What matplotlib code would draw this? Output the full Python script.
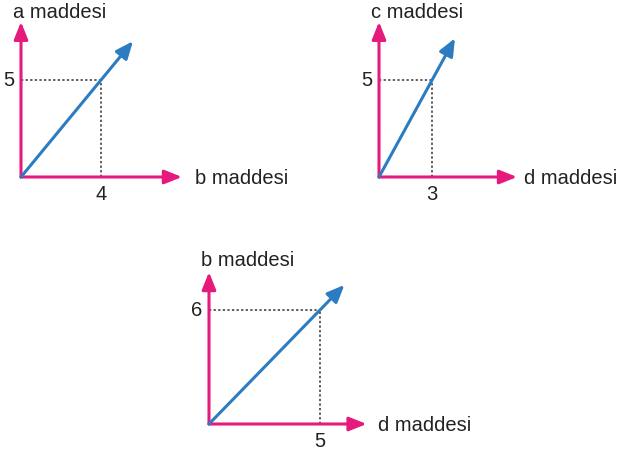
import matplotlib.pyplot as plt

# values
x_labels = ["b maddesi", "d maddesi", "d maddesi"]
y_labels = ["a maddesi", "c maddesi", "b maddesi"]
x_vals = [4, 3, 5]
y_vals = [5, 5, 6]

PINK = "#e6197d"
BLUE = "#2b7cc1"
DOT = "#333333"
TXT = "#222222"

W, H = 621, 455
fig = plt.figure(figsize=(W / 100, H / 100), dpi=100)
plt.rcParams["font.family"] = ["Liberation Sans", "DejaVu Sans"]

# layout: origin pixel, px per unit (x, y), axis length in units (x, y),
# arrow stretch, gap before the x name (pt), lift of the y name (pt)
layout = [
    dict(origin=(21, 177), scale=(20.0, 19.4), length=(8.05, 8.0), stretch=1.4, gap=9.5, lift=7),
    dict(origin=(379, 177), scale=(17.7, 19.4), length=(7.8, 8.0), stretch=1.43, gap=5, lift=7),
    dict(origin=(209, 424), scale=(22.2, 19.0), length=(7.1, 8.0), stretch=1.22, gap=8, lift=8.5),
]

for i in range(3):
    lay = layout[i]
    ox, oy = lay["origin"]
    sx, sy = lay["scale"]
    lx, ly = lay["length"]
    ax = fig.add_axes([ox / W, (H - oy) / H, lx * sx / W, ly * sy / H])
    ax.set_xlim(0, lx)
    ax.set_ylim(0, ly)
    ax.axis("off")

    # pink axes
    axis_props = dict(arrowstyle="-|>,head_length=0.75,head_width=0.3",
                      color=PINK, lw=2.2, shrinkA=0, shrinkB=0,
                      mutation_scale=14)
    ax.annotate("", xy=(lx, 0), xytext=(0, 0), arrowprops=axis_props,
                annotation_clip=False)
    ax.annotate("", xy=(0, ly), xytext=(0, 0), arrowprops=axis_props,
                annotation_clip=False)

    x, y = x_vals[i], y_vals[i]
    # dotted guide lines
    ax.plot([0, x], [y, y], ls=(0, (1.5, 1.5)), color=DOT, lw=1.1, clip_on=False)
    ax.plot([x, x], [0, y], ls=(0, (1.5, 1.5)), color=DOT, lw=1.1, clip_on=False)

    # blue vector
    k = lay["stretch"]
    ax.annotate("", xy=(x * k, y * k), xytext=(0, 0),
                arrowprops=dict(arrowstyle="-|>,head_length=0.75,head_width=0.32",
                                color=BLUE, lw=2.2, shrinkA=0, shrinkB=0,
                                mutation_scale=14),
                annotation_clip=False)

    # tick numbers
    ax.annotate(str(y), xy=(0, y), xytext=(-4.5, -0.5), textcoords="offset points",
                ha="right", va="center", fontsize=14.5, color=TXT)
    ax.annotate(str(x), xy=(x, 0), xytext=(0, -6), textcoords="offset points",
                ha="center", va="top", fontsize=14.5, color=TXT)

    # axis names
    ax.annotate(y_labels[i], xy=(0, ly), xytext=(-6, lay["lift"] - 0.5), textcoords="offset points",
                ha="left", va="center", fontsize=14.5, color=TXT)
    ax.annotate(x_labels[i], xy=(lx, 0), xytext=(lay["gap"], -1.2), textcoords="offset points",
                ha="left", va="center", fontsize=14.5, color=TXT)

fig.savefig("out.png", dpi=100, facecolor="white")
